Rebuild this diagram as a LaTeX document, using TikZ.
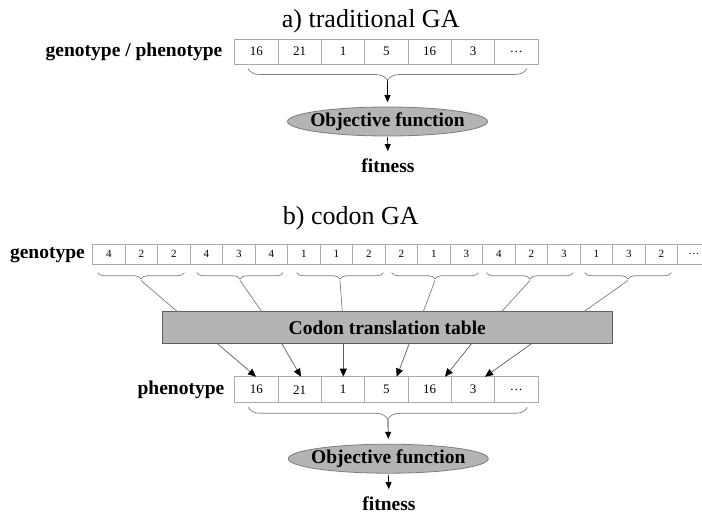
\documentclass[tikz,border=0pt]{standalone}
\usepackage{fontspec}
\setmainfont{Liberation Serif}
\usetikzlibrary{arrows.meta,decorations.pathreplacing,shapes.geometric,calc}
\definecolor{cellgray}{RGB}{170,170,170}
\definecolor{bracegray}{RGB}{125,125,125}
\definecolor{boxfill}{RGB}{180,180,180}
\definecolor{boxedge}{RGB}{95,95,95}
\begin{document}
\begin{tikzpicture}[x=1pt,y=-1pt,
  bigcell/.style={draw=cellgray, line width=0.8pt, minimum width=43.33pt, minimum height=25pt, inner sep=0pt, font=\fontsize{13}{13}\selectfont},
  smallcell/.style={draw=cellgray, line width=0.8pt, minimum width=32.5pt, minimum height=20pt, inner sep=0pt, font=\fontsize{11}{11}\selectfont},
  lbl/.style={font=\fontsize{19.5}{20}\selectfont\bfseries, inner sep=2pt},
  ttl/.style={font=\fontsize{26}{26}\selectfont, inner sep=0pt},
  objfn/.style={ellipse, draw=bracegray, line width=0.8pt, fill=boxfill, minimum width=200pt, minimum height=29pt, inner sep=0pt, font=\fontsize{19.5}{20}\selectfont\bfseries},
  tblbox/.style={rectangle, draw=boxedge, line width=0.8pt, fill=boxfill, minimum width=450pt, minimum height=32pt, inner sep=0pt, font=\fontsize{19.5}{20}\selectfont\bfseries},
  curly/.style={decorate, decoration={brace, mirror, amplitude=#1}, draw=bracegray, line width=0.7pt},
  arr/.style={-{Triangle[length=7pt,width=6pt]}, line width=0.7pt},
  feed/.style={draw=bracegray, line width=0.7pt},
  pointer/.style={-{Triangle[length=8pt,width=7pt,color=black]}, draw=boxedge, line width=0.7pt},
]
\fill[white] (0,0) rectangle (702,515);
\useasboundingbox (0,0) rectangle (702,515);

% ---------- a) traditional GA ----------
\node[ttl, anchor=base west] (titleA) at (281.7,27) {a) traditional GA};
\node[lbl, anchor=east] (lblA) at (224.5,52) {genotype / phenotype};
\foreach \v [count=\i] in {16,21,1,5,16,3,\ldots}
  \node[bigcell] (ta\i) at ({234.7+43.33*(\i-0.5)},51.5) {\v};
\draw[curly=12pt] (248,68.5) -- (527,68.5);
\coordinate (tipA) at (387.5,81);
\node[objfn] (objA) at (387.5,121.5) {\makebox[100pt][c]{Objective function}};
\node[lbl, anchor=base] (fitA) at (388,172) {fitness};
\draw[arr, shorten >=4.5pt] (tipA) -- (objA.north);
\draw[arr, shorten <=1pt, shorten >=5pt] (objA.south) -- (fitA.north);

% ---------- b) codon GA ----------
\node[ttl, anchor=base west] (titleB) at (282.7,224.3) {b) codon GA};
\node[lbl, anchor=east] (lblB) at (87,255) {genotype};
\foreach \v [count=\i] in {4,2,2,4,3,4,1,1,2,2,1,3,4,2,3,1,3,2,\ldots}
  \node[smallcell] (g\i) at ({92.7+32.5*(\i-0.5)},254.3) {\v};

\node[tblbox] (tbl) at (387.3,327.5) {Codon translation table};

\foreach \k/\t/\e in {1/141/177.3, 2/240/261.7, 3/340/342.3, 4/435/423.3, 5/530/501.7, 6/628/584}{
  \draw[curly=6.5pt] ({\t-43.5},272.5) -- ({\t+43.5},272.5);
  \coordinate (gt\k) at (\t,280.5);
  \coordinate (in\k) at (\e,311.5);
  \draw[feed] (gt\k) -- (in\k);
}

\node[lbl, anchor=east] (lblP) at (226.5,390) {phenotype};
\foreach \v [count=\i] in {16,21,1,5,16,3,\ldots}
  \node[bigcell, minimum height=26pt] (pb\i) at ({234.7+43.33*(\i-0.5)},389.7) {\v};

\foreach \k/\xs/\xe in {1/217.3/256, 2/281.7/301, 3/343.3/343.3, 4/409.3/396.7, 5/471.7/445, 6/531.7/485}{
  \coordinate (out\k) at (\xs,343.5);
  \coordinate (pin\k) at (\xe,376.7);
  \draw[pointer] (out\k) -- (pin\k);
}

\draw[curly=12pt] (248.3,407.3) -- (527.3,407.3);
\coordinate (tipB) at (388,419.5);
\node[objfn] (objB) at (388.3,458.7) {\makebox[100pt][c]{Objective function}};
\node[lbl, anchor=base] (fitB) at (389,510) {fitness};
\draw[arr, shorten >=5pt] (tipB) -- (objB.north);
\draw[arr, shorten <=1pt, shorten >=5pt] (objB.south) -- (fitB.north);
\end{tikzpicture}
\end{document}
